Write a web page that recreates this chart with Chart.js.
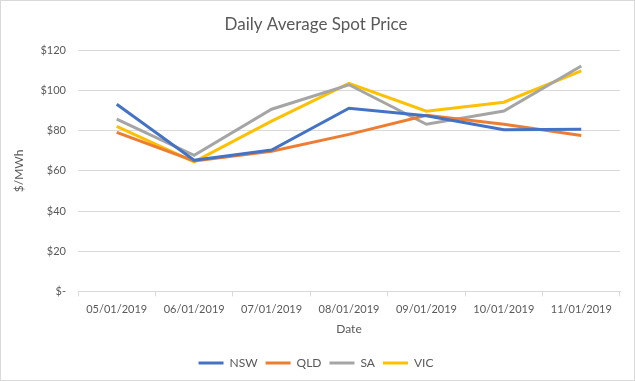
<!DOCTYPE html>
<html>
<head>
<meta charset="utf-8">
<script src="https://cdn.jsdelivr.net/npm/chart.js@4/dist/chart.umd.min.js"></script>
<style>
  html, body { margin: 0; padding: 0; background: #fff; }
  #wrap { width: 635px; height: 381px; }
</style>
</head>
<body>
<div id="wrap"><canvas id="priceChart" width="635" height="381"></canvas></div>
<script>
const dates = ['05/01/2019', '06/01/2019', '07/01/2019', '08/01/2019', '09/01/2019', '10/01/2019', '11/01/2019'];
const nsw = [93.2, 65.3, 70.4, 91.2, 87.5, 80.5, 80.8];
const qld = [79.2, 65.0, 69.8, 78.2, 87.7, 83.2, 77.6];
const sa = [85.8, 67.8, 90.7, 102.9, 83.2, 89.8, 112.2];
const vic = [82.2, 64.5, 84.8, 103.6, 89.7, 94.2, 109.8];
const yTicks = [0, 20, 40, 60, 80, 100, 120];

const FONT = 'Lato, "Open Sans", sans-serif';
const TEXT = '#595959';
const GRID = '#d9d9d9';

function series(label, data, color) {
  return {
    label, data,
    borderColor: color,
    backgroundColor: color,
    borderWidth: 3,
    pointRadius: 0,
    tension: 0,
    fill: false
  };
}

// white background + thin outer border like the Excel chart frame
const frame = {
  id: 'frame',
  beforeDraw(chart) {
    const { ctx, width, height } = chart;
    ctx.save();
    ctx.fillStyle = '#fff';
    ctx.fillRect(0, 0, width, height);
    ctx.strokeStyle = GRID;
    ctx.lineWidth = 1;
    ctx.strokeRect(0.5, 0.5, width - 1, height - 1);
    ctx.restore();
  }
};

new Chart(document.getElementById('priceChart'), {
  type: 'line',
  data: {
    labels: dates,
    datasets: [
      series('NSW', nsw, '#4472C4'),
      series('QLD', qld, '#ED7D31'),
      series('SA', sa, '#A5A5A5'),
      series('VIC', vic, '#FFC000')
    ]
  },
  options: {
    responsive: false,
    animation: false,
    layout: { padding: { left: 12, right: 15, top: 0, bottom: 2 } },
    plugins: {
      title: {
        display: true,
        text: 'Daily Average Spot Price',
        color: TEXT,
        font: { family: FONT, size: 17, weight: 'normal' },
        padding: { top: 14, bottom: 16 }
      },
      legend: {
        position: 'bottom',
        labels: {
          usePointStyle: true,
          pointStyle: 'line',
          pointStyleWidth: 25,
          color: TEXT,
          font: { family: FONT, size: 12 },
          padding: 8
        }
      },
      tooltip: { enabled: false }
    },
    scales: {
      x: {
        offset: true,
        grid: { display: true, drawOnChartArea: false, drawTicks: true, tickLength: 5, color: GRID, offset: true },
        border: { display: true, color: GRID },
        ticks: { color: TEXT, font: { family: FONT, size: 11 }, padding: 6, maxRotation: 0 },
        title: { display: true, text: 'Date', color: TEXT, font: { family: FONT, size: 12 }, padding: { top: 0, bottom: 13 } }
      },
      y: {
        min: 0,
        max: 120,
        afterBuildTicks: s => { s.ticks = yTicks.map(v => ({ value: v })); },
        afterFit: s => { s.width = 66; },
        grid: { color: GRID, drawTicks: false },
        border: { display: false },
        ticks: {
          color: TEXT,
          font: { family: FONT, size: 11 },
          padding: 12,
          callback: v => v === 0 ? '$-' : '$' + v
        },
        title: { display: true, text: '$/MWh', color: TEXT, font: { family: FONT, size: 12 }, padding: { top: 0, bottom: 4 } }
      }
    }
  },
  plugins: [frame]
});
</script>
</body>
</html>
